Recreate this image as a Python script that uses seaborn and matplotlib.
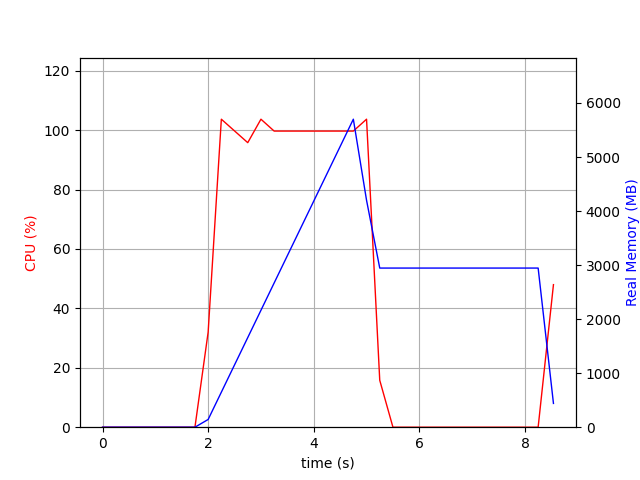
import seaborn as sns
import matplotlib
matplotlib.use('Agg')
import matplotlib.pyplot as plt

# cpu samples (s, %)
cpu_time = [0, 1.75, 2.0, 2.25, 2.75, 3.0, 3.25, 4.75, 5.0, 5.25, 5.5, 8.25, 8.54]
cpu = [0, 0, 32, 103.7, 95.8, 103.7, 99.7, 99.7, 103.7, 15.8, 0, 0, 48]

# memory samples (s, MB)
mem_time = [0, 1.75, 2.0, 4.75, 5.0, 5.25, 8.25, 8.54]
mem = [0, 0, 143, 5700, 4200, 2945, 2945, 440]

fig, ax1 = plt.subplots(figsize=(6.4, 4.8), dpi=100)
sns.lineplot(x=cpu_time, y=cpu, ax=ax1, color='red', linewidth=1)
ax1.set_xlabel('time (s)')
ax1.set_ylabel('CPU (%)', color='red')
ax1.set_ylim(0, max(cpu) * 1.2)
ax1.grid(True)

ax2 = ax1.twinx()
sns.lineplot(x=mem_time, y=mem, ax=ax2, color='blue', linewidth=1)
ax2.set_ylabel('Real Memory (MB)', color='blue')
ax2.set_ylim(0, max(mem) * 1.2)

plt.savefig('out.png')
